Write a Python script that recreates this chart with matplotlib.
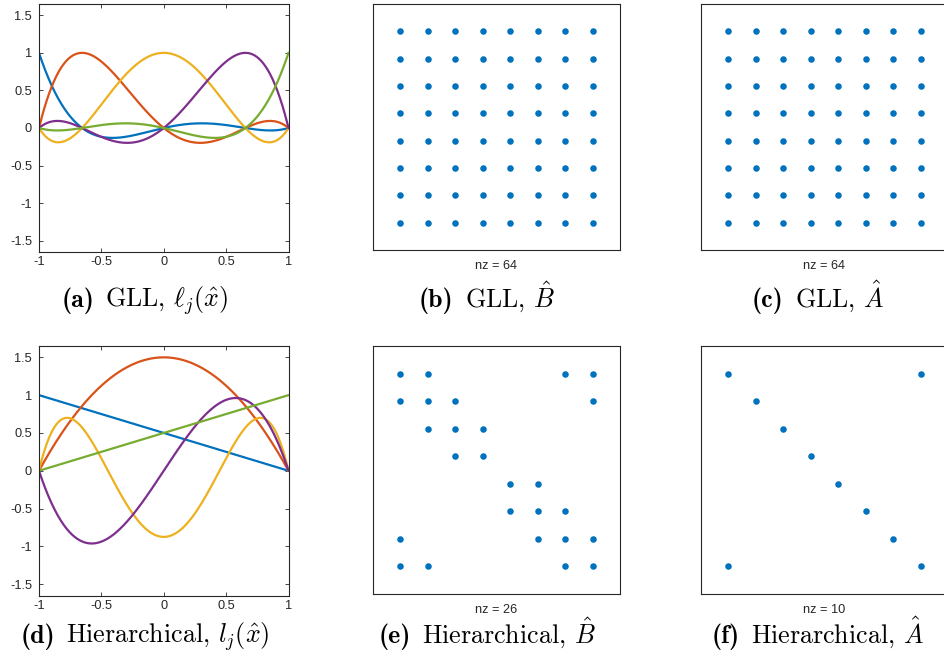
import numpy as np
import matplotlib
matplotlib.use("Agg")
import matplotlib.pyplot as plt

plt.rcParams['mathtext.fontset'] = 'cm'
plt.rcParams['font.family'] = ['Liberation Sans', 'DejaVu Sans']

# MATLAB default line colours
colors = ['#0072BD', '#D95319', '#EDB120', '#7E2F8E', '#77AC30']
ink = '#262626'

# GLL nodes for degree 4
gll_nodes = [-1.0, -0.654654, 0.0, 0.654654, 1.0]

# hierarchical basis, polynomial coefficients (highest power first)
hier_coeffs = [
    [-0.5, 0.5],
    [-1.5, 0.0, 1.5],
    [-4.375, 0.0, 5.25, 0.0, -0.875],
    [-2.5, 0.0, 2.5, 0.0],
    [0.5, 0.5],
]

# sparsity patterns, 1-based column indices per row
gll_B_rows = [[1, 2, 3, 4, 5, 6, 7, 8]] * 8
gll_A_rows = [[1, 2, 3, 4, 5, 6, 7, 8]] * 8
hier_B_rows = [
    [1, 2, 7, 8],
    [1, 2, 3, 8],
    [2, 3, 4],
    [3, 4],
    [5, 6],
    [5, 6, 7],
    [1, 6, 7, 8],
    [1, 2, 7, 8],
]
hier_A_rows = [[1, 8], [2], [3], [4], [5], [6], [7], [1, 8]]

cap_labels = ['(a)', '(b)', '(c)', '(d)', '(e)', '(f)']
cap_texts = [
    r'GLL, $\ell_j(\hat{x})$',
    r'GLL, $\hat{B}$',
    r'GLL, $\hat{A}$',
    r'Hierarchical, $l_j(\hat{x})$',
    r'Hierarchical, $\hat{B}$',
    r'Hierarchical, $\hat{A}$',
]

W, H = 945, 659
fig = plt.figure(figsize=(W / 100, H / 100), dpi=100)


def px_axes(left, top, right, bottom):
    return fig.add_axes([left / W, 1 - bottom / H, (right - left) / W, (bottom - top) / H])


def lagrange(x, nodes, j):
    y = np.ones_like(x)
    for m, xm in enumerate(nodes):
        if m != j:
            y *= (x - xm) / (nodes[j] - xm)
    return y


x = np.linspace(-1, 1, 400)

# (a) GLL basis
ax = px_axes(39, 4, 288.5, 252)
for j in range(len(gll_nodes)):
    ax.plot(x, lagrange(x, gll_nodes, j), color=colors[j], lw=1.6)

# (d) hierarchical basis
ax2 = px_axes(39, 346, 288.5, 595.5)
for j, c in enumerate(hier_coeffs):
    ax2.plot(x, np.polyval(c, x), color=colors[j], lw=1.6)

for a in (ax, ax2):
    a.set_xlim(-1, 1)
    a.set_ylim(-1.65, 1.65)
    a.set_xticks([-1, -0.5, 0, 0.5, 1])
    a.set_xticklabels(['-1', '-0.5', '0', '0.5', '1'])
    a.set_yticks([-1.5, -1, -0.5, 0, 0.5, 1, 1.5])
    a.set_yticklabels(['-1.5', '-1', '-0.5', '0', '0.5', '1', '1.5'])
    for s in a.spines.values():
        s.set_color(ink)
        s.set_linewidth(0.8)
    a.tick_params(direction='in', length=3, width=0.6, colors=ink,
                  labelsize=9.2, top=True, right=True)
    a.tick_params(axis='x', pad=3)
    a.tick_params(axis='y', pad=5)


def spy(ax, rows):
    rr, cc = [], []
    for i, cols in enumerate(rows):
        for cidx in cols:
            rr.append(i + 1)
            cc.append(cidx)
    ax.plot(cc, rr, 'o', color=colors[0], ms=4.7, mew=0)
    ax.set_xlim(0, 9)
    ax.set_ylim(9, 0)
    ax.set_xticks([])
    ax.set_yticks([])
    for s in ax.spines.values():
        s.set_color(ink)
        s.set_linewidth(0.8)
    ax.set_xlabel('nz = %d' % len(rr), fontsize=9.2, color=ink, labelpad=7)


spy(px_axes(373, 4, 620, 250), gll_B_rows)
spy(px_axes(701, 4, 948, 250), gll_A_rows)
spy(px_axes(373, 346, 620, 594), hier_B_rows)
spy(px_axes(701, 346, 948, 594), hier_A_rows)

# sub-figure captions: bold label followed by the caption text
cap_fs = 18.7
cap_x = [145, 487, 818]
cap_y = [306.5, 642.5]
renderer = fig.canvas.get_renderer()
for k in range(6):
    t1 = fig.text(0, 0, cap_labels[k], fontfamily='cmb10', fontsize=cap_fs, va='baseline')
    t2 = fig.text(0, 0, cap_texts[k], fontfamily='cmr10', fontsize=cap_fs, va='baseline')
    w1 = t1.get_window_extent(renderer).width
    w2 = t2.get_window_extent(renderer).width
    gap = 11
    x0 = cap_x[k % 3] - (w1 + gap + w2) / 2
    yb = 1 - cap_y[k // 3] / H
    t1.set_position((x0 / W, yb))
    t2.set_position(((x0 + w1 + gap) / W, yb))

fig.savefig('out.png', dpi=100)
